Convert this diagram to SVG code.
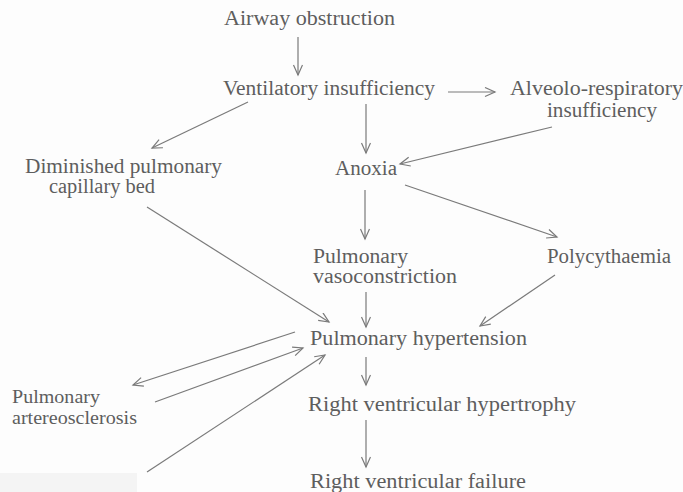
<svg xmlns="http://www.w3.org/2000/svg" width="683" height="492" viewBox="0 0 683 492">
<defs>
<style>
text{font-family:"Liberation Serif","Times New Roman",serif;font-size:20px;fill:#5e5e5e}
text.s{font-size:18px}
.c line{stroke:#7a7a7a;stroke-width:1.2;fill:none;marker-end:url(#ah)}
</style>
<marker id="ah" markerUnits="userSpaceOnUse" markerWidth="14" markerHeight="12" refX="11" refY="5" orient="auto">
<path d="M1,0.5 L11,5 L1,9.5" fill="none" stroke="#7a7a7a" stroke-width="1.2"/>
</marker>
</defs>
<rect width="683" height="492" fill="#fdfdfd"/>
<rect x="0" y="473" width="137" height="19" fill="#f4f4f4"/>
<g class="c" id="connectors">
<line x1="298" y1="37" x2="298" y2="75"/>
<line x1="448" y1="92" x2="495" y2="92"/>
<line x1="248" y1="102" x2="152" y2="148"/>
<line x1="366" y1="104" x2="366" y2="153"/>
<line x1="552" y1="127" x2="400" y2="164"/>
<line x1="365" y1="190" x2="365" y2="239"/>
<line x1="405" y1="185" x2="557" y2="237"/>
<line x1="147" y1="207" x2="329" y2="322"/>
<line x1="366" y1="292" x2="366" y2="327"/>
<line x1="555" y1="275" x2="480" y2="326"/>
<line x1="295" y1="332" x2="133" y2="385"/>
<line x1="155" y1="402" x2="303" y2="348"/>
<line x1="147" y1="472" x2="325" y2="355"/>
<line x1="366" y1="357" x2="366" y2="385"/>
<line x1="366" y1="420" x2="366" y2="467"/>
</g>
<g id="airway"><text x="224" y="25" textLength="171" lengthAdjust="spacingAndGlyphs">Airway obstruction</text></g>
<g id="ventilatory"><text x="223" y="95" textLength="212" lengthAdjust="spacingAndGlyphs">Ventilatory insufficiency</text></g>
<g id="alveolo"><text x="510" y="95" textLength="173" lengthAdjust="spacingAndGlyphs">Alveolo-respiratory</text><text x="547" y="117" textLength="110" lengthAdjust="spacingAndGlyphs">insufficiency</text></g>
<g id="diminished"><text x="25" y="173" textLength="197" lengthAdjust="spacingAndGlyphs">Diminished pulmonary</text><text x="49" y="193" textLength="106" lengthAdjust="spacingAndGlyphs">capillary bed</text></g>
<g id="anoxia"><text x="335" y="175" textLength="62" lengthAdjust="spacingAndGlyphs">Anoxia</text></g>
<g id="vasoconstriction"><text x="313" y="263" textLength="95" lengthAdjust="spacingAndGlyphs">Pulmonary</text><text x="313" y="283" textLength="144" lengthAdjust="spacingAndGlyphs">vasoconstriction</text></g>
<g id="polycythaemia"><text x="547" y="263" textLength="124" lengthAdjust="spacingAndGlyphs">Polycythaemia</text></g>
<g id="hypertension"><text x="310" y="345" textLength="217" lengthAdjust="spacingAndGlyphs">Pulmonary hypertension</text></g>
<g id="arteriosclerosis"><text class="s" x="12" y="403" textLength="88" lengthAdjust="spacingAndGlyphs">Pulmonary</text><text class="s" x="12" y="424" textLength="125" lengthAdjust="spacingAndGlyphs">artereosclerosis</text></g>
<g id="hypertrophy"><text x="308" y="411" textLength="268" lengthAdjust="spacingAndGlyphs">Right ventricular hypertrophy</text></g>
<g id="failure"><text x="310" y="488" textLength="216" lengthAdjust="spacingAndGlyphs">Right ventricular failure</text></g>
</svg>
